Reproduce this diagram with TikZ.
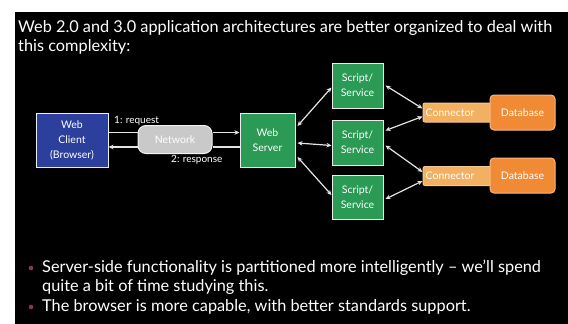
\documentclass[tikz,border=0pt]{standalone}
\usepackage{fontspec}
\setmainfont{Lato}
\usetikzlibrary{arrows.meta}
\definecolor{clientblue}{HTML}{2C3F9C}
\definecolor{servergreen}{HTML}{2A9A55}
\definecolor{netgray}{HTML}{C9C9C9}
\definecolor{connorange}{HTML}{F2B062}
\definecolor{dborange}{HTML}{F08A34}
\definecolor{bulletred}{HTML}{8E3454}
\definecolor{linkgray}{HTML}{E4E4E4}

\tikzset{
  box/.style={draw=white!85!gray, line width=1pt, text=white, align=center,
    inner sep=0pt, font=\fontsize{10.5}{15}\selectfont},
  clientbox/.style={box, fill=clientblue, minimum width=72pt, minimum height=54pt},
  greenbox/.style={box, fill=servergreen},
  netbox/.style={box, fill=netgray, draw=white!90!gray, rounded corners=8pt,
    minimum width=74pt, minimum height=28pt},
  connbox/.style={box, fill=connorange, draw=connorange!70!white, rounded corners=2pt,
    minimum width=72pt, minimum height=19pt},
  dbbox/.style={box, fill=dborange, draw=dborange!60!white, rounded corners=4pt,
    minimum width=65pt, minimum height=35pt},
  link/.style={draw=linkgray, line width=1.2pt},
  twoway/.style={link, {Stealth[length=5pt,width=4.5pt]}-{Stealth[length=5pt,width=4.5pt]}},
  label/.style={text=white, font=\fontsize{10}{12}\selectfont, inner sep=0pt},
  slidetext/.style={text=white, font=\fontsize{16.3}{18.5}\selectfont, align=left, inner sep=0pt}
}

\begin{document}
\begin{tikzpicture}[x=1pt,y=-1pt]
  \useasboundingbox (0,0) rectangle (568,324);
  \fill[white] (0,0) rectangle (568,324);
  \fill[black] (15,12) rectangle (568,324);

  \node[slidetext, anchor=west] (title) at (18,37.5)
    {Web 2.0 and 3.0 application architectures are better organized to deal with\\this complexity:};

  \node[clientbox] (client) at (72,140) {Web\\Client\\(Browser)};
  \node[netbox] (net) at (175,139.5) {Network};
  \node[greenbox, minimum width=55pt, minimum height=54pt] (server) at (267.5,140) {Web\\Server};
  \node[greenbox, minimum width=51pt, minimum height=45pt] (script1) at (357.5,85.5) {Script/\\Service};
  \node[greenbox, minimum width=51pt, minimum height=45pt] (script2) at (357.5,142.5) {Script/\\Service};
  \node[greenbox, minimum width=51pt, minimum height=44pt] (script3) at (357.5,197) {Script/\\Service};
  \node[connbox] (conn1) at (459,112.5) {Connector\hspace*{18pt}};
  \node[connbox] (conn2) at (459,176) {Connector\hspace*{18pt}};
  \node[dbbox] (db1) at (522.5,112.5) {Database};
  \node[dbbox] (db2) at (522.5,175.5) {Database};

  \draw[link] ([yshift=7.5pt]client.east) -- ([yshift=7.5pt]client.east -| net.west);
  \draw[link, -{Stealth[length=5pt,width=4.5pt]}] ([yshift=7.5pt]client.east -| net.east)
    -- ([yshift=7.5pt]client.east -| server.west);
  \draw[link] ([yshift=-7pt]server.west) -- ([yshift=-7pt]server.west -| net.east);
  \draw[link, -{Stealth[length=5pt,width=4.5pt]}] ([yshift=-7pt]server.west -| net.west)
    -- ([yshift=-7pt]server.west -| client.east);
  \node[label, anchor=west] (req) at (114,121) {1: request};
  \node[label, anchor=west] (resp) at (171,160) {2: response};

  \draw[twoway] ([yshift=14pt,xshift=2pt]server.east) -- ([yshift=-2pt]script1.west);
  \draw[twoway] ([yshift=-3pt,xshift=2pt]server.east) -- ([yshift=-3pt]script2.west);
  \draw[twoway] ([yshift=-17pt,xshift=2pt]server.east) -- ([yshift=2pt]script3.west);

  \draw[twoway] ([yshift=0pt,xshift=2pt]script1.east) -- ([yshift=4pt]conn1.west);
  \draw[twoway] ([yshift=12pt,xshift=2pt]script2.east) -- ([yshift=-4pt]conn1.west);
  \draw[twoway] ([yshift=-3pt,xshift=2pt]script2.east) -- ([yshift=4pt]conn2.west);
  \draw[twoway] ([yshift=-2pt,xshift=2pt]script3.east) -- ([yshift=-5pt]conn2.west);

  \fill[bulletred] (31,268) circle (2.3pt);
  \node[slidetext, anchor=west] (point1) at (42,277.5)
    {Server-side functionality is partitioned more intelligently -- we'll spend\\quite a bit of time studying this.};
  \fill[bulletred] (31,307) circle (2.3pt);
  \node[slidetext, anchor=west] (point2) at (42,307)
    {The browser is more capable, with better standards support.};
\end{tikzpicture}
\end{document}
